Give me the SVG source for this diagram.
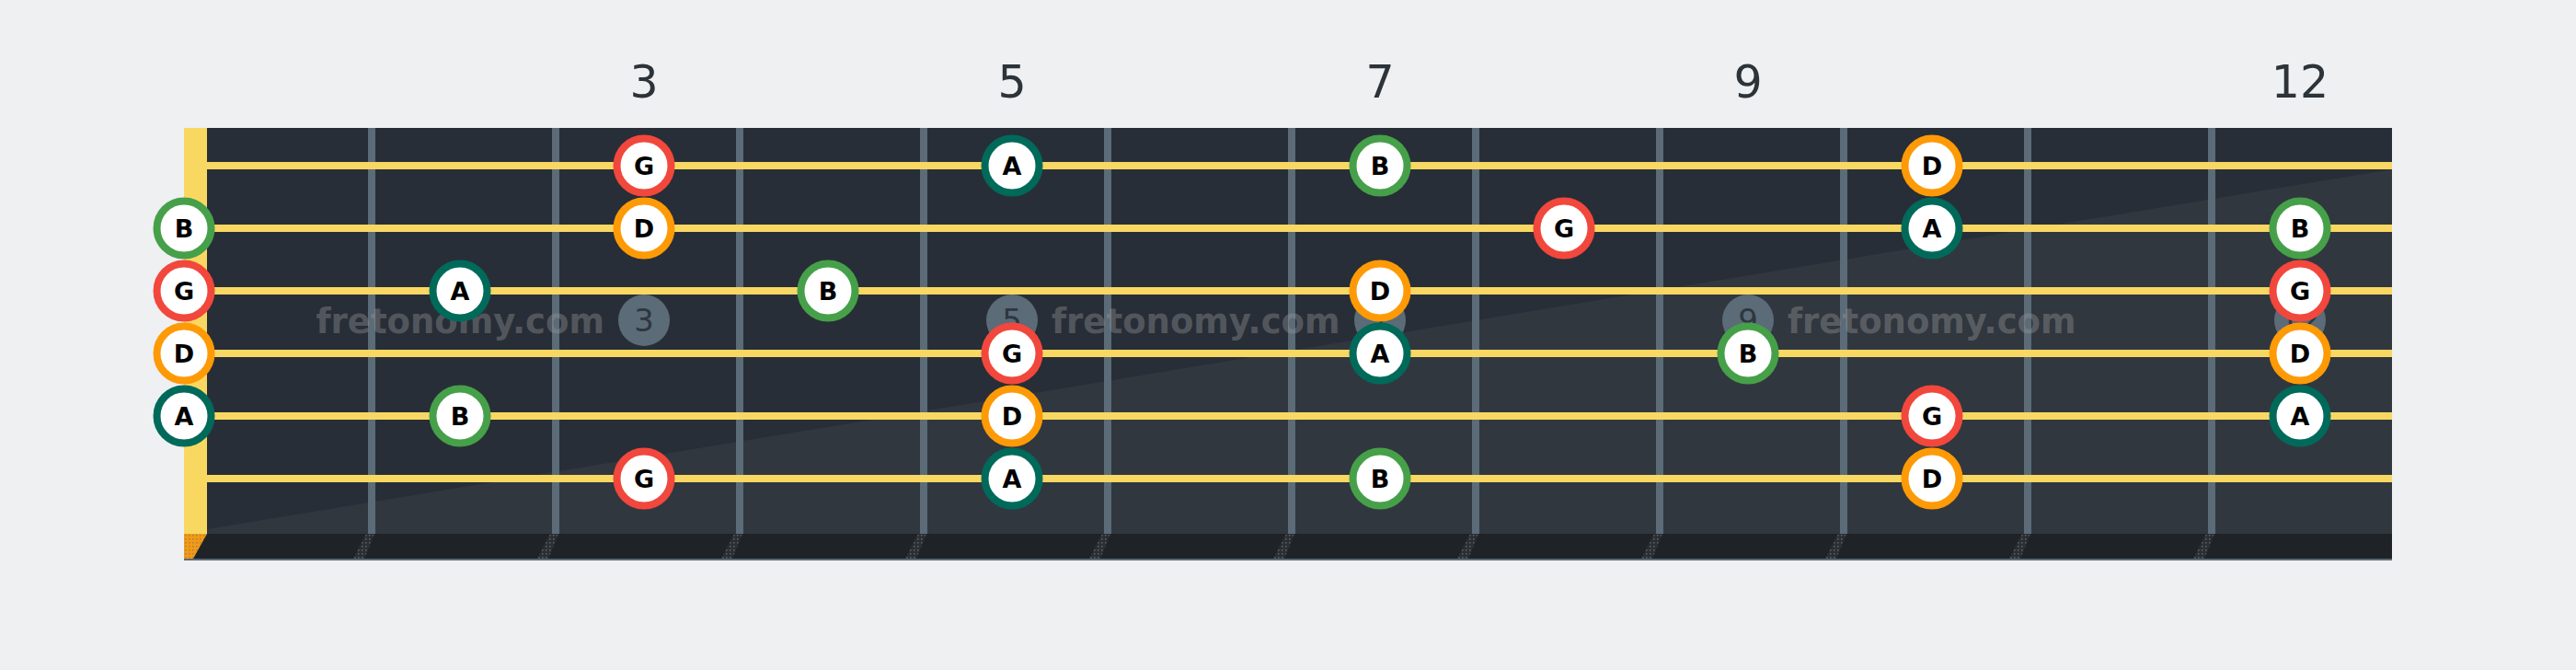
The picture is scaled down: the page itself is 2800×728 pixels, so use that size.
<svg xmlns="http://www.w3.org/2000/svg" width="2800" height="728" viewBox="0 0 2800 728">
<style>
.fn{font-family:"DejaVu Sans","Liberation Sans",sans-serif;font-size:49px;fill:#2c3339;text-anchor:middle}
.fret{fill:#5b6b78}
.str{fill:#f8d862}
.wm{font-family:"DejaVu Sans","Liberation Sans",sans-serif;font-weight:bold;font-size:37px;fill:#9a9a9a;fill-opacity:0.4}
.wmc{fill:#5b6b78}
.wmn{font-family:"DejaVu Sans","Liberation Sans",sans-serif;font-size:34px;fill:#2e363f;text-anchor:middle}
.note circle{fill:#ffffff;stroke-width:8}
.note text{font-family:"DejaVu Sans","Liberation Sans",sans-serif;font-weight:bold;font-size:27px;fill:#000;text-anchor:middle}
.G circle{stroke:#f2473c}
.D circle{stroke:#fe9a06}
.A circle{stroke:#006a5a}
.B circle{stroke:#46a049}
.shadow{fill:url(#dots)}
</style>
<defs>
<pattern id="dots" width="4" height="4" patternUnits="userSpaceOnUse">
<rect width="4" height="4" fill="#2b2f34"/>
<rect x="1" y="1" width="1.5" height="1.5" fill="#5f646a"/>
</pattern>
<pattern id="odots" width="4" height="4" patternUnits="userSpaceOnUse">
<rect width="4" height="4" fill="#f39a12"/>
<rect x="1" y="1" width="1.5" height="1.5" fill="#a08060"/>
</pattern>
</defs>
<rect width="2800" height="728" fill="#eef0f2"/>
<g id="fret-numbers">
<text class="fn" x="700" y="106">3</text>
<text class="fn" x="1100" y="106">5</text>
<text class="fn" x="1500" y="106">7</text>
<text class="fn" x="1900" y="106">9</text>
<text class="fn" x="2500" y="106">12</text>
</g>
<g id="board">
<rect x="200" y="139" width="2400" height="441" fill="#282e37"/>
<polygon points="225,575 2600,184 2600,580 225,580" fill="#31373f"/>
<rect x="200" y="580" width="2400" height="28" fill="#1f2328"/>
<rect x="200" y="607" width="2400" height="2" fill="#5b6b78"/>
<polygon points="200,580 225,580 210,607 200,607" fill="url(#odots)"/>
<g class="frets">
<rect class="fret" x="400" y="139" width="8" height="441"/>
<rect class="fret" x="600" y="139" width="8" height="441"/>
<rect class="fret" x="800" y="139" width="8" height="441"/>
<rect class="fret" x="1000" y="139" width="8" height="441"/>
<rect class="fret" x="1200" y="139" width="8" height="441"/>
<rect class="fret" x="1400" y="139" width="8" height="441"/>
<rect class="fret" x="1600" y="139" width="8" height="441"/>
<rect class="fret" x="1800" y="139" width="8" height="441"/>
<rect class="fret" x="2000" y="139" width="8" height="441"/>
<rect class="fret" x="2200" y="139" width="8" height="441"/>
<rect class="fret" x="2400" y="139" width="8" height="441"/>
</g>
<g class="shadows">
<polygon class="shadow" points="398,580 407,580 396,607 384,607"/>
<polygon class="shadow" points="598,580 607,580 596,607 584,607"/>
<polygon class="shadow" points="798,580 807,580 796,607 784,607"/>
<polygon class="shadow" points="998,580 1007,580 996,607 984,607"/>
<polygon class="shadow" points="1198,580 1207,580 1196,607 1184,607"/>
<polygon class="shadow" points="1398,580 1407,580 1396,607 1384,607"/>
<polygon class="shadow" points="1598,580 1607,580 1596,607 1584,607"/>
<polygon class="shadow" points="1798,580 1807,580 1796,607 1784,607"/>
<polygon class="shadow" points="1998,580 2007,580 1996,607 1984,607"/>
<polygon class="shadow" points="2198,580 2207,580 2196,607 2184,607"/>
<polygon class="shadow" points="2398,580 2407,580 2396,607 2384,607"/>
</g>
<rect x="200" y="139" width="25" height="441" fill="#f9d862"/>
<g class="strings">
<rect class="str" x="225" y="176" width="2375" height="8"/>
<rect class="str" x="225" y="244" width="2375" height="8"/>
<rect class="str" x="225" y="312" width="2375" height="8"/>
<rect class="str" x="225" y="380" width="2375" height="8"/>
<rect class="str" x="225" y="448" width="2375" height="8"/>
<rect class="str" x="225" y="516" width="2375" height="8"/>
</g>
</g>
<g id="watermark">
<text class="wm" x="657" y="362" text-anchor="end">fretonomy.com</text>
<text class="wm" x="1143" y="362">fretonomy.com</text>
<text class="wm" x="1943" y="362">fretonomy.com</text>
<circle class="wmc" cx="700" cy="348" r="28"/><text class="wmn" x="700" y="360">3</text>
<circle class="wmc" cx="1100" cy="348" r="28"/><text class="wmn" x="1100" y="360">5</text>
<circle class="wmc" cx="1500" cy="348" r="28"/><text class="wmn" x="1500" y="360">7</text>
<circle class="wmc" cx="1900" cy="348" r="28"/><text class="wmn" x="1900" y="360">9</text>
<circle class="wmc" cx="2500" cy="348" r="28"/><text class="wmn" x="2500" y="360">12</text>
</g>
<g id="notes">
<g id="s1-f3" class="note G"><circle cx="700" cy="180" r="29.5"/><text x="700" y="189.8">G</text></g>
<g id="s1-f5" class="note A"><circle cx="1100" cy="180" r="29.5"/><text x="1100" y="189.8">A</text></g>
<g id="s1-f7" class="note B"><circle cx="1500" cy="180" r="29.5"/><text x="1500" y="189.8">B</text></g>
<g id="s1-f10" class="note D"><circle cx="2100" cy="180" r="29.5"/><text x="2100" y="189.8">D</text></g>

<g id="s2-f0" class="note B"><circle cx="200" cy="248" r="29.5"/><text x="200" y="257.8">B</text></g>
<g id="s2-f3" class="note D"><circle cx="700" cy="248" r="29.5"/><text x="700" y="257.8">D</text></g>
<g id="s2-f8" class="note G"><circle cx="1700" cy="248" r="29.5"/><text x="1700" y="257.8">G</text></g>
<g id="s2-f10" class="note A"><circle cx="2100" cy="248" r="29.5"/><text x="2100" y="257.8">A</text></g>
<g id="s2-f12" class="note B"><circle cx="2500" cy="248" r="29.5"/><text x="2500" y="257.8">B</text></g>

<g id="s3-f0" class="note G"><circle cx="200" cy="316" r="29.5"/><text x="200" y="325.8">G</text></g>
<g id="s3-f2" class="note A"><circle cx="500" cy="316" r="29.5"/><text x="500" y="325.8">A</text></g>
<g id="s3-f4" class="note B"><circle cx="900" cy="316" r="29.5"/><text x="900" y="325.8">B</text></g>
<g id="s3-f7" class="note D"><circle cx="1500" cy="316" r="29.5"/><text x="1500" y="325.8">D</text></g>
<g id="s3-f12" class="note G"><circle cx="2500" cy="316" r="29.5"/><text x="2500" y="325.8">G</text></g>

<g id="s4-f0" class="note D"><circle cx="200" cy="384" r="29.5"/><text x="200" y="393.8">D</text></g>
<g id="s4-f5" class="note G"><circle cx="1100" cy="384" r="29.5"/><text x="1100" y="393.8">G</text></g>
<g id="s4-f7" class="note A"><circle cx="1500" cy="384" r="29.5"/><text x="1500" y="393.8">A</text></g>
<g id="s4-f9" class="note B"><circle cx="1900" cy="384" r="29.5"/><text x="1900" y="393.8">B</text></g>
<g id="s4-f12" class="note D"><circle cx="2500" cy="384" r="29.5"/><text x="2500" y="393.8">D</text></g>

<g id="s5-f0" class="note A"><circle cx="200" cy="452" r="29.5"/><text x="200" y="461.8">A</text></g>
<g id="s5-f2" class="note B"><circle cx="500" cy="452" r="29.5"/><text x="500" y="461.8">B</text></g>
<g id="s5-f5" class="note D"><circle cx="1100" cy="452" r="29.5"/><text x="1100" y="461.8">D</text></g>
<g id="s5-f10" class="note G"><circle cx="2100" cy="452" r="29.5"/><text x="2100" y="461.8">G</text></g>
<g id="s5-f12" class="note A"><circle cx="2500" cy="452" r="29.5"/><text x="2500" y="461.8">A</text></g>

<g id="s6-f3" class="note G"><circle cx="700" cy="520" r="29.5"/><text x="700" y="529.8">G</text></g>
<g id="s6-f5" class="note A"><circle cx="1100" cy="520" r="29.5"/><text x="1100" y="529.8">A</text></g>
<g id="s6-f7" class="note B"><circle cx="1500" cy="520" r="29.5"/><text x="1500" y="529.8">B</text></g>
<g id="s6-f10" class="note D"><circle cx="2100" cy="520" r="29.5"/><text x="2100" y="529.8">D</text></g>
</g>
</svg>
